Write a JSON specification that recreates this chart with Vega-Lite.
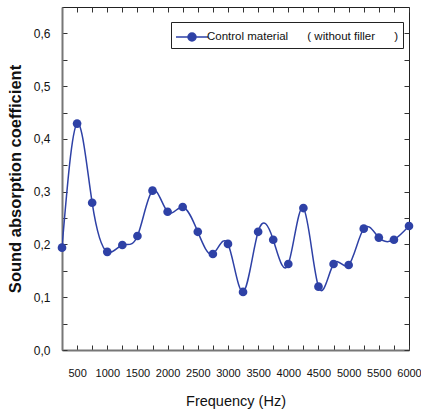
{
  "$schema": "https://vega.github.io/schema/vega-lite/v6.json",
  "width": 347,
  "height": 343,
  "autosize": {"type": "none"},
  "padding": {"left": 62, "top": 7, "right": 12, "bottom": 65},
  "background": "white",
  "config": {
    "view": {"stroke": "#222", "strokeWidth": 1},
    "font": "Liberation Sans, Arial"
  },
  "data": {"values": [
    {"f": 250, "a": 0.194, "s": "Control material\u00a0\u00a0\u00a0\u00a0\u00a0\u00a0( without filler\u00a0\u00a0\u00a0\u00a0\u00a0\u00a0)"},
    {"f": 500, "a": 0.429, "s": "Control material\u00a0\u00a0\u00a0\u00a0\u00a0\u00a0( without filler\u00a0\u00a0\u00a0\u00a0\u00a0\u00a0)"},
    {"f": 750, "a": 0.279, "s": "Control material\u00a0\u00a0\u00a0\u00a0\u00a0\u00a0( without filler\u00a0\u00a0\u00a0\u00a0\u00a0\u00a0)"},
    {"f": 1000, "a": 0.186, "s": "Control material\u00a0\u00a0\u00a0\u00a0\u00a0\u00a0( without filler\u00a0\u00a0\u00a0\u00a0\u00a0\u00a0)"},
    {"f": 1250, "a": 0.199, "s": "Control material\u00a0\u00a0\u00a0\u00a0\u00a0\u00a0( without filler\u00a0\u00a0\u00a0\u00a0\u00a0\u00a0)"},
    {"f": 1500, "a": 0.216, "s": "Control material\u00a0\u00a0\u00a0\u00a0\u00a0\u00a0( without filler\u00a0\u00a0\u00a0\u00a0\u00a0\u00a0)"},
    {"f": 1750, "a": 0.302, "s": "Control material\u00a0\u00a0\u00a0\u00a0\u00a0\u00a0( without filler\u00a0\u00a0\u00a0\u00a0\u00a0\u00a0)"},
    {"f": 2000, "a": 0.262, "s": "Control material\u00a0\u00a0\u00a0\u00a0\u00a0\u00a0( without filler\u00a0\u00a0\u00a0\u00a0\u00a0\u00a0)"},
    {"f": 2250, "a": 0.271, "s": "Control material\u00a0\u00a0\u00a0\u00a0\u00a0\u00a0( without filler\u00a0\u00a0\u00a0\u00a0\u00a0\u00a0)"},
    {"f": 2500, "a": 0.224, "s": "Control material\u00a0\u00a0\u00a0\u00a0\u00a0\u00a0( without filler\u00a0\u00a0\u00a0\u00a0\u00a0\u00a0)"},
    {"f": 2750, "a": 0.182, "s": "Control material\u00a0\u00a0\u00a0\u00a0\u00a0\u00a0( without filler\u00a0\u00a0\u00a0\u00a0\u00a0\u00a0)"},
    {"f": 3000, "a": 0.201, "s": "Control material\u00a0\u00a0\u00a0\u00a0\u00a0\u00a0( without filler\u00a0\u00a0\u00a0\u00a0\u00a0\u00a0)"},
    {"f": 3250, "a": 0.110, "s": "Control material\u00a0\u00a0\u00a0\u00a0\u00a0\u00a0( without filler\u00a0\u00a0\u00a0\u00a0\u00a0\u00a0)"},
    {"f": 3500, "a": 0.224, "s": "Control material\u00a0\u00a0\u00a0\u00a0\u00a0\u00a0( without filler\u00a0\u00a0\u00a0\u00a0\u00a0\u00a0)"},
    {"f": 3750, "a": 0.209, "s": "Control material\u00a0\u00a0\u00a0\u00a0\u00a0\u00a0( without filler\u00a0\u00a0\u00a0\u00a0\u00a0\u00a0)"},
    {"f": 4000, "a": 0.163, "s": "Control material\u00a0\u00a0\u00a0\u00a0\u00a0\u00a0( without filler\u00a0\u00a0\u00a0\u00a0\u00a0\u00a0)"},
    {"f": 4250, "a": 0.269, "s": "Control material\u00a0\u00a0\u00a0\u00a0\u00a0\u00a0( without filler\u00a0\u00a0\u00a0\u00a0\u00a0\u00a0)"},
    {"f": 4500, "a": 0.120, "s": "Control material\u00a0\u00a0\u00a0\u00a0\u00a0\u00a0( without filler\u00a0\u00a0\u00a0\u00a0\u00a0\u00a0)"},
    {"f": 4750, "a": 0.163, "s": "Control material\u00a0\u00a0\u00a0\u00a0\u00a0\u00a0( without filler\u00a0\u00a0\u00a0\u00a0\u00a0\u00a0)"},
    {"f": 5000, "a": 0.161, "s": "Control material\u00a0\u00a0\u00a0\u00a0\u00a0\u00a0( without filler\u00a0\u00a0\u00a0\u00a0\u00a0\u00a0)"},
    {"f": 5250, "a": 0.230, "s": "Control material\u00a0\u00a0\u00a0\u00a0\u00a0\u00a0( without filler\u00a0\u00a0\u00a0\u00a0\u00a0\u00a0)"},
    {"f": 5500, "a": 0.213, "s": "Control material\u00a0\u00a0\u00a0\u00a0\u00a0\u00a0( without filler\u00a0\u00a0\u00a0\u00a0\u00a0\u00a0)"},
    {"f": 5750, "a": 0.209, "s": "Control material\u00a0\u00a0\u00a0\u00a0\u00a0\u00a0( without filler\u00a0\u00a0\u00a0\u00a0\u00a0\u00a0)"},
    {"f": 6000, "a": 0.235, "s": "Control material\u00a0\u00a0\u00a0\u00a0\u00a0\u00a0( without filler\u00a0\u00a0\u00a0\u00a0\u00a0\u00a0)"}
  ]},
  "resolve": {"axis": {"x": "independent", "y": "independent"}},
  "layer": [
    {
      "mark": {"type": "line", "interpolate": "natural", "strokeWidth": 1.5, "clip": true},
      "encoding": {
        "x": {"field": "f", "type": "quantitative", "scale": {"domain": [250, 6000], "nice": false, "zero": false},
          "axis": {"title": "Frequency (Hz)", "titleFontSize": 14.5, "titleFontWeight": "normal", "titleColor": "#111", "titlePadding": 16,
            "values": [250,500,750,1000,1250,1500,1750,2000,2250,2500,2750,3000,3250,3500,3750,4000,4250,4500,4750,5000,5250,5500,5750,6000],
            "labelExpr": "round(datum.value/250) % 2 == 0 ? datum.value : ''",
            "labelFontSize": 11, "labelColor": "#111", "labelPadding": 22, "labelFlush": false, "labelOverlap": false,
            "tickSize": -5, "tickColor": "#333", "tickWidth": 1, "domainColor": "#777", "domainWidth": 2, "grid": false}},
        "y": {"field": "a", "type": "quantitative", "scale": {"domain": [0, 0.65], "nice": false},
          "axis": {"title": "Sound absorption coefficient", "titleFontSize": 16.5, "titleFontWeight": "bold", "titleColor": "#111", "titlePadding": 10,
            "values": [0,0.05,0.1,0.15,0.2,0.25,0.3,0.35,0.4,0.45,0.5,0.55,0.6],
            "labelExpr": "round(datum.value*20) % 2 == 0 ? replace(format(datum.value, '.1f'), '.', ',') : ''",
            "labelFontSize": 12, "labelColor": "#111", "labelPadding": 17, "labelOverlap": false,
            "tickSize": -5, "tickColor": "#333", "tickWidth": 1, "domainColor": "#777", "domainWidth": 2, "grid": false}},
        "color": {"field": "s", "type": "nominal", "scale": {"range": ["#2E41A6"]},
          "legend": {"title": null, "orient": "none", "legendX": 109, "legendY": 15,
            "symbolType": "M-1.6,0H1.6M0.4,0A0.4,0.4 0 1,1 -0.4,0A0.4,0.4 0 1,1 0.4,0Z",
            "symbolSize": 400, "symbolStrokeWidth": 1.5, "symbolFillColor": "#2E41A6", "symbolStrokeColor": "#2E41A6",
            "symbolOffset": 6, "labelOffset": 4,
            "labelFontSize": 11.5, "labelColor": "#111", "labelLimit": 400,
            "strokeColor": "#222", "padding": 4, "fillColor": "white"}}
      }
    },
    {
      "mark": {"type": "point", "filled": true, "size": 75, "opacity": 1},
      "encoding": {
        "x": {"field": "f", "type": "quantitative", "axis": {"orient": "top", "labels": false, "domain": false, "title": null, "grid": false,
          "values": [250,500,750,1000,1250,1500,1750,2000,2250,2500,2750,3000,3250,3500,3750,4000,4250,4500,4750,5000,5250,5500,5750,6000],
          "tickSize": -5, "tickColor": "#333"}},
        "y": {"field": "a", "type": "quantitative", "axis": {"orient": "right", "labels": false, "domain": false, "title": null, "grid": false,
          "values": [0,0.05,0.1,0.15,0.2,0.25,0.3,0.35,0.4,0.45,0.5,0.55,0.6],
          "tickSize": -5, "tickColor": "#333"}},
        "color": {"field": "s", "type": "nominal"}
      }
    }
  ]
}
